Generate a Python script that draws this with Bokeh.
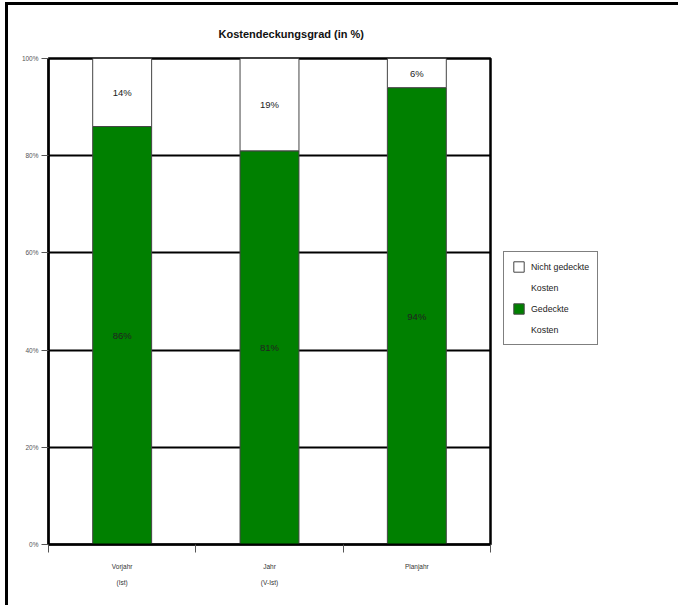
from bokeh.plotting import figure
from bokeh.models import (Range1d, FixedTicker, PrintfTickFormatter,
                          Legend, LegendItem, ColumnDataSource, LinearAxis)
from bokeh.core.properties import value
from bokeh.embed import file_html
from bokeh.resources import INLINE

# ---- data ----
categories = ["Vorjahr", "Jahr", "Planjahr"]
category_sub = ["(Ist)", "(V-Ist)", ""]
gedeckt = [86, 81, 94]          # Gedeckte Kosten (%)
nicht_gedeckt = [14, 19, 6]     # Nicht gedeckte Kosten (%)
y_ticks = [0, 20, 40, 60, 80, 100]

FONT = "Liberation Sans"
GREEN = "#008000"

xs = [i + 0.5 for i in range(len(categories))]
tops_total = [g + n for g, n in zip(gedeckt, nicht_gedeckt)]

src = ColumnDataSource(dict(
    x=xs, g=gedeckt, n=nicht_gedeckt, total=tops_total,
    g_mid=[g / 2 for g in gedeckt],
    n_mid=[g + n / 2 for g, n in zip(gedeckt, nicht_gedeckt)],
    g_lbl=[f"{g}%" for g in gedeckt],
    n_lbl=[f"{n}%" for n in nicht_gedeckt],
))

p = figure(frame_width=442, frame_height=486, output_backend="svg",
           toolbar_location=None,
           x_range=Range1d(0, len(categories)), y_range=Range1d(0, 100),
           min_border_left=40, min_border_top=53, min_border_right=186,
           min_border_bottom=61)
p.styles = {"border-top": "3px solid black", "border-left": "3px solid black",
            "margin-left": "5px", "margin-top": "2px"}

# title
p.title.text = "Kostendeckungsgrad (in %)"
p.title.text_font = FONT
p.title.text_font_size = "11px"
p.title.text_font_style = "bold"
p.title.text_color = "#111111"
p.title.align = "left"
p.title.offset = 170
p.title.standoff = 38

# bars
g_r = p.vbar(x="x", width=0.4, bottom=0, top="g", source=src,
             fill_color=GREEN, line_color="#444444", line_width=1)
n_r = p.vbar(x="x", width=0.4, bottom="g", top="total", source=src,
             fill_color="white", line_color="#444444", line_width=1)
# invisible renderer used for the second line of the legend labels
blank_r = p.vbar(x="x", width=0.4, bottom=0, top="g", source=src,
                 fill_alpha=0, line_alpha=0)

# bar labels
for ycol, tcol in (("g_mid", "g_lbl"), ("n_mid", "n_lbl")):
    p.text(x="x", y=ycol, text=tcol, source=src, text_align="center",
           text_baseline="middle", text_font=value(FONT),
           text_font_size="9.5px", text_color="#222222")

# axes
p.outline_line_color = "black"
p.outline_line_width = 2.5
p.xgrid.visible = False
p.ygrid.ticker = FixedTicker(ticks=y_ticks[1:-1])
p.ygrid.grid_line_color = "black"
p.ygrid.grid_line_width = 2

p.yaxis.ticker = FixedTicker(ticks=y_ticks)
p.yaxis.formatter = PrintfTickFormatter(format="%d%%")
p.yaxis.major_label_text_font = FONT
p.yaxis.major_label_text_font_size = "6.5px"
p.yaxis.major_label_text_color = "#555555"
p.yaxis.major_tick_out = 7
p.yaxis.major_tick_in = 0
p.yaxis.major_tick_line_color = "#555555"
p.yaxis.minor_tick_line_color = None
p.yaxis.axis_line_color = "black"
p.yaxis.axis_line_width = 2
p.yaxis.major_label_standoff = 3

# boundary ticks (no labels)
p.xaxis.ticker = FixedTicker(ticks=list(range(len(categories) + 1)))
p.xaxis.major_label_text_font_size = "1px"
p.xaxis.major_label_text_alpha = 0
p.xaxis.major_label_standoff = 0
p.xaxis.major_tick_out = 8
p.xaxis.major_tick_in = 0
p.xaxis.major_tick_line_color = "#555555"
p.xaxis.minor_tick_line_color = None
p.xaxis.axis_line_color = "black"
p.xaxis.axis_line_width = 2

# category label axis
cat_axis = LinearAxis(
    ticker=FixedTicker(ticks=xs),
    major_label_overrides={x: (c + ("\n" + s if s else ""))
                           for x, c, s in zip(xs, categories, category_sub)},
    axis_line_color=None, major_tick_line_color=None,
    minor_tick_line_color=None, major_label_standoff=4,
    major_label_text_font=FONT, major_label_text_font_size="6.5px",
    major_label_text_color="#333333", major_label_text_line_height=2.3,
    major_label_text_baseline="top",
)
p.add_layout(cat_axis, "below")

# legend
legend = Legend(items=[
    LegendItem(label="Nicht gedeckte", renderers=[n_r]),
    LegendItem(label="Kosten", renderers=[blank_r]),
    LegendItem(label="Gedeckte", renderers=[g_r]),
    LegendItem(label="Kosten ", renderers=[blank_r]),
], location=(13, 199))
legend.border_line_color = "black"
legend.border_line_width = 1
legend.label_text_font = FONT
legend.label_text_font_size = "8.8px"
legend.label_text_color = "#222222"
legend.glyph_width = 13
legend.glyph_height = 13
legend.label_height = 13
legend.padding = 8
legend.spacing = 8
legend.label_standoff = 6
legend.margin = 0
legend.background_fill_alpha = 1
p.add_layout(legend, "right")

open("out.html", "w").write(file_html(p, INLINE))
